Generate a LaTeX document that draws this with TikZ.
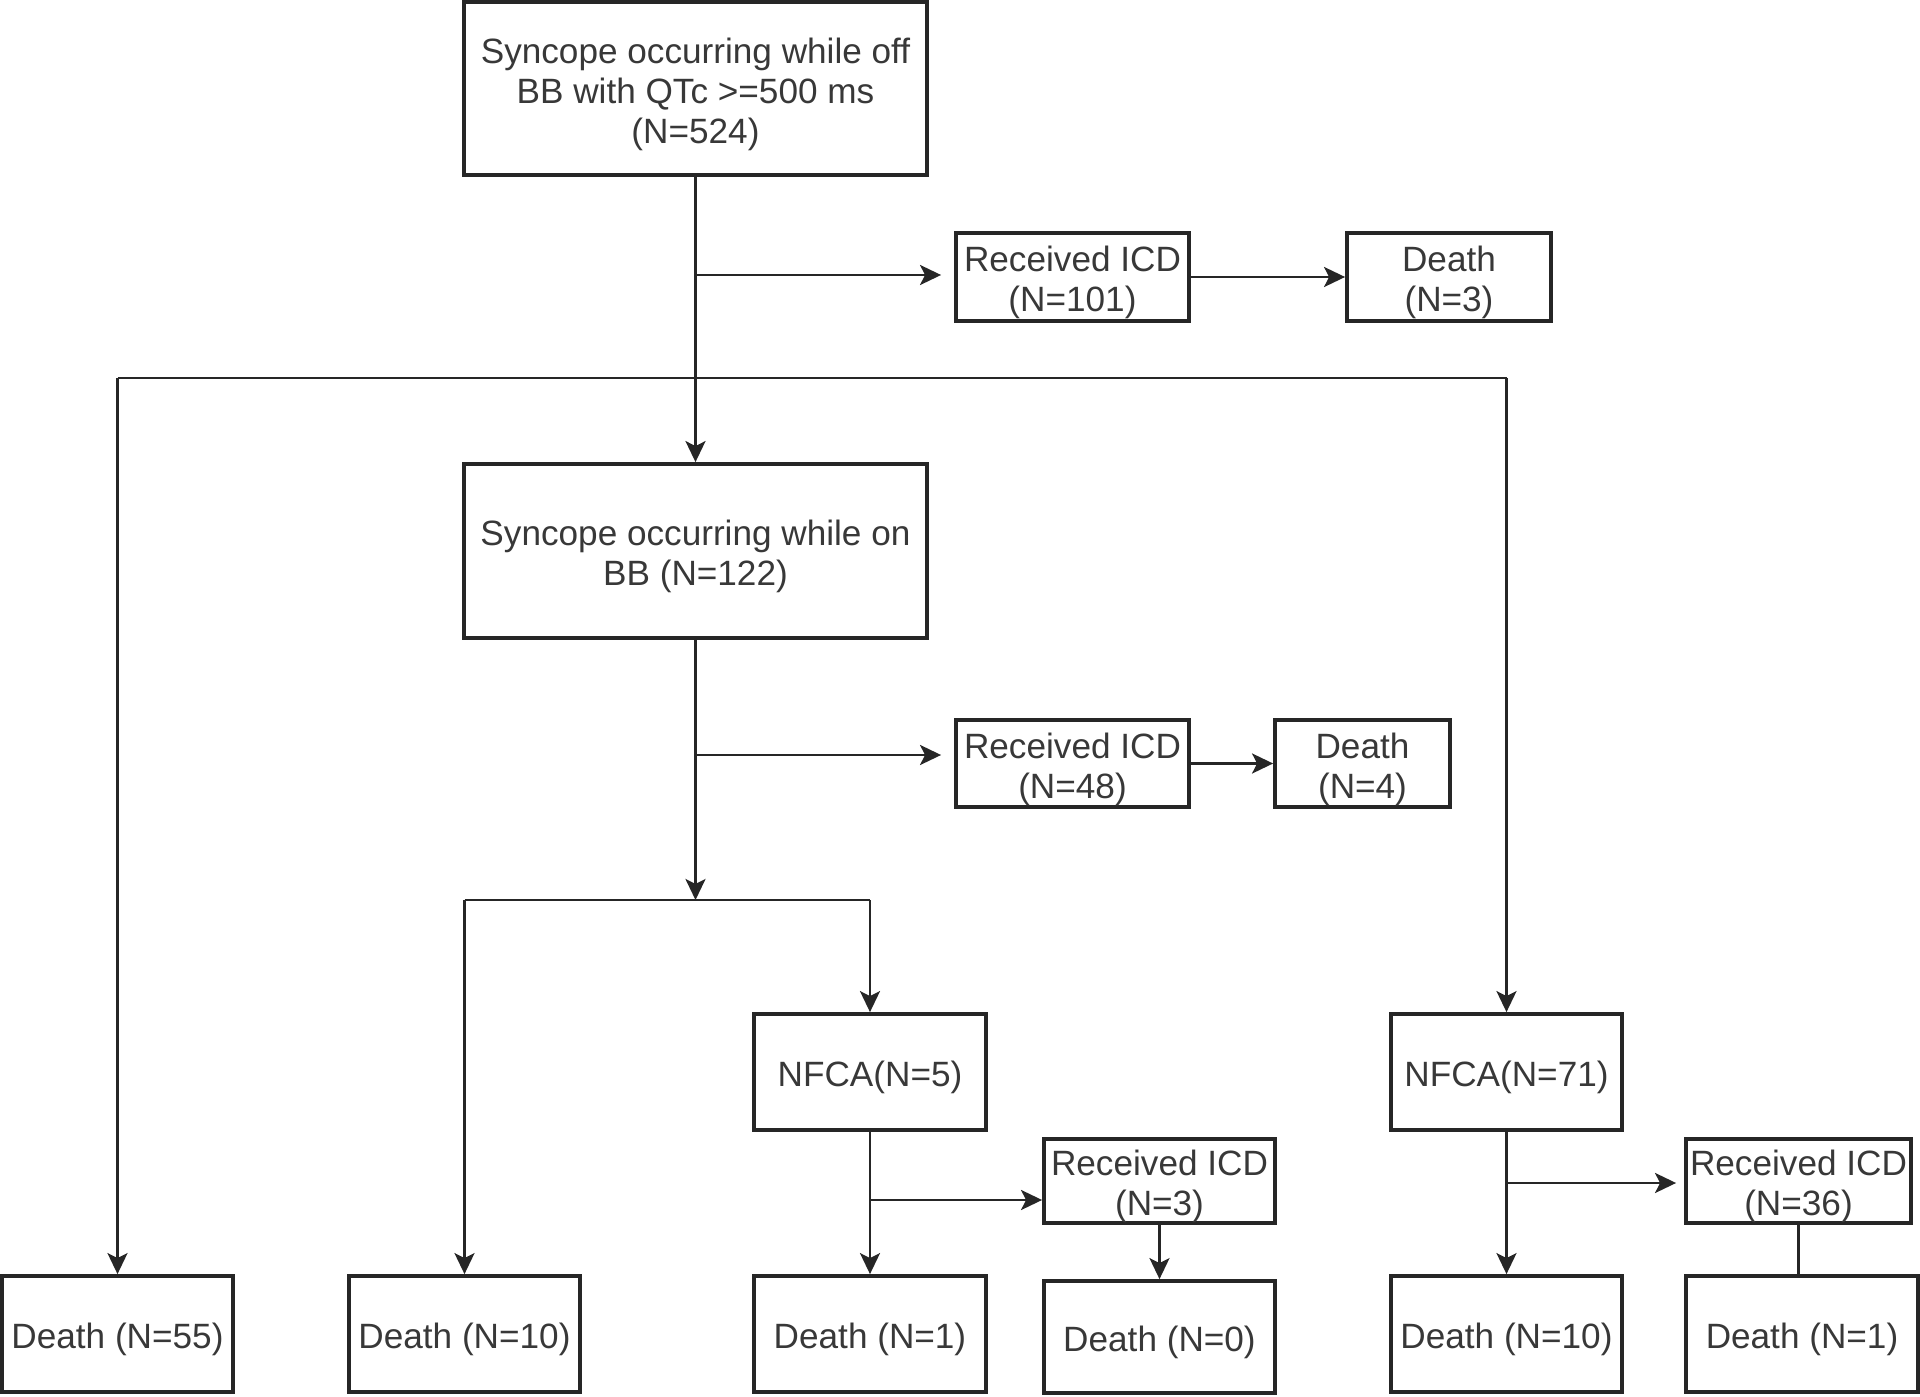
\documentclass[tikz,border=0pt]{standalone}
\usepackage{fontspec}
\setmainfont{Liberation Sans}
\usetikzlibrary{arrows.meta}
\definecolor{linec}{HTML}{262626}
\definecolor{textc}{HTML}{383838}
\tikzset{
  box/.style={draw=linec, line width=1.05pt, rectangle, inner sep=0pt},
  txt/.style={inner sep=0pt, align=center, text=textc, font=\fontsize{10}{11.4}\selectfont},
  conn/.style={draw=linec, line width=0.8pt},
  arr/.style={conn, -{Stealth[length=2.1mm, width=2mm, inset=0.5mm]}},
}
\newcommand{\mybox}[6]{%
  \node[box, minimum width=#4cm, minimum height=#5cm] (#1) at (#2,#3) {};
  \node[txt] (#1-t) at ([yshift=-0.055cm]#1.center) {#6};
}
\begin{document}
\begin{tikzpicture}[x=0.01cm, y=-0.01cm]
\useasboundingbox (0,0) rectangle (1920,1397);
% nodes
\mybox{top}{695.5}{88.5}{4.63}{1.73}{Syncope occurring while off\\BB with QTc >=500 ms\\(N=524)}
\mybox{icd1}{1072.5}{277}{2.33}{0.88}{Received ICD\\(N=101)}
\mybox{d3}{1449}{277}{2.04}{0.88}{Death\\(N=3)}
\mybox{box2}{695.5}{551}{4.63}{1.74}{Syncope occurring while on\\BB (N=122)}
\mybox{icd2}{1072.5}{763.5}{2.33}{0.87}{Received ICD\\(N=48)}
\mybox{d4}{1362.5}{763.5}{1.75}{0.87}{Death\\(N=4)}
\mybox{d55}{117.5}{1334}{2.31}{1.16}{Death (N=55)}
\mybox{d10}{464.5}{1334}{2.31}{1.16}{Death (N=10)}
\mybox{nfca5}{870}{1072}{2.32}{1.16}{NFCA(N=5)}
\mybox{d1}{870}{1334}{2.32}{1.16}{Death (N=1)}
\mybox{icd3}{1159.5}{1181}{2.31}{0.84}{Received ICD\\(N=3)}
\mybox{d0}{1159.5}{1337}{2.31}{1.12}{Death (N=0)}
\mybox{nfca71}{1506.5}{1072}{2.31}{1.16}{NFCA(N=71)}
\mybox{d10b}{1506.5}{1334}{2.31}{1.16}{Death (N=10)}
\mybox{icd36}{1798.5}{1181}{2.25}{0.84}{Received ICD\\(N=36)}
\mybox{d1b}{1802}{1334}{2.32}{1.16}{Death (N=1)}
% helper coordinates
\coordinate (hl) at (0,378);
\coordinate (b1) at (0,275);
\coordinate (b2) at (0,755);
\coordinate (split) at (0,900);
\coordinate (b3) at (0,1200);
\coordinate (b4) at (0,1183);
% connectors
\draw[arr] (top.south) -- (box2.north);
\draw[arr, shorten >=0.13cm] (top.south |- b1) -- (icd1.west |- b1);
\draw[arr] (icd1.east) -- (d3.west);
\draw[conn] (d55.north |- hl) -- (nfca71.north |- hl);
\draw[arr] (d55.north |- hl) -- (d55.north);
\draw[arr] (nfca71.north |- hl) -- (nfca71.north);
\draw[arr] (box2.south) -- (box2.south |- split);
\draw[arr, shorten >=0.13cm] (box2.south |- b2) -- (icd2.west |- b2);
\draw[arr] (icd2.east) -- (d4.west);
\draw[conn] (d10.north |- split) -- (nfca5.north |- split);
\draw[arr] (d10.north |- split) -- (d10.north);
\draw[arr] (nfca5.north |- split) -- (nfca5.north);
\draw[arr] (nfca5.south) -- (d1.north);
\draw[arr] (nfca5.south |- b3) -- (icd3.west |- b3);
\draw[arr] (icd3.south) -- (d0.north);
\draw[arr] (nfca71.south) -- (d10b.north);
\draw[arr, shorten >=0.08cm] (nfca71.south |- b4) -- (icd36.west |- b4);
\draw[conn] (icd36.south) -- (icd36.south |- d1b.north);
\end{tikzpicture}
\end{document}
